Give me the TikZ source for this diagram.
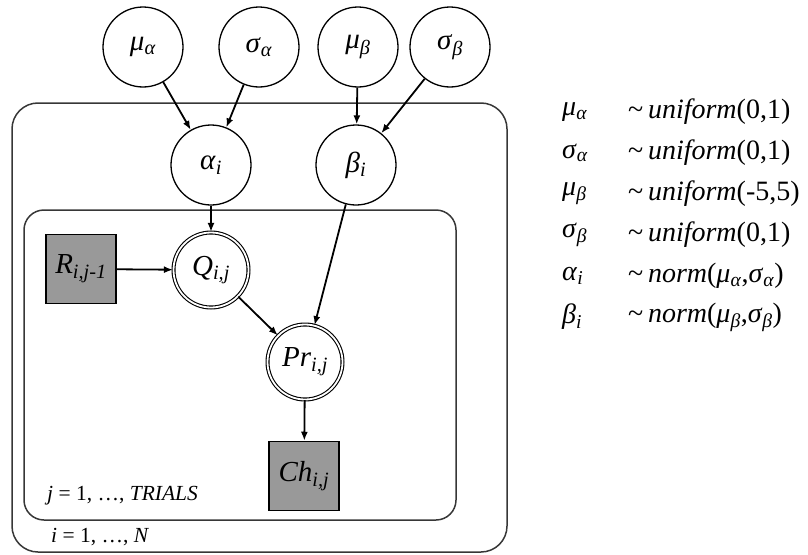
\documentclass[tikz,border=0pt]{standalone}
\usepackage{fontspec}
\setmainfont{Liberation Serif}
\usetikzlibrary{arrows.meta}
\definecolor{obsgray}{RGB}{153,153,153}
\definecolor{platec}{RGB}{55,55,55}
\newcommand\vsub[2]{\textit{#1}\textsubscript{\textit{#2}}}
\begin{document}
\begin{tikzpicture}[x=1pt,y=-1pt,
  latent/.style={circle,draw,line width=1.3pt,minimum size=80pt,inner sep=0pt,font=\fontsize{29}{32}\selectfont},
  detnode/.style={circle,draw,double,double distance=1.8pt,line width=1.1pt,minimum size=75pt,inner sep=0pt,font=\fontsize{29}{32}\selectfont},
  obs/.style={rectangle,draw,fill=obsgray,line width=1.5pt,minimum width=70pt,minimum height=69pt,inner sep=0pt,font=\fontsize{29}{32}\selectfont},
  edge/.style={-{Latex[length=9pt,width=7pt]},line width=1.8pt},
  plate/.style={draw=platec,line width=1.5pt},
  platelab/.style={anchor=west,inner sep=0pt,font=\fontsize{21.5}{24}\selectfont},
  listtxt/.style={anchor=west,inner sep=0pt,font=\fontsize{28}{32}\selectfont}]
\useasboundingbox (0,0) rectangle (808,554);
% plates
\draw[plate,rounded corners=26pt] (12,103) rectangle (507,552);
\draw[plate,rounded corners=20pt] (24,210) rectangle (456,520);
% top nodes
\node[latent] (mua) at (143,47) {\vsub{μ}{α}};
\node[latent] (sa)  at (259,47) {\vsub{σ}{α}};
\node[latent] (mub) at (358,47) {\vsub{μ}{β}};
\node[latent] (sb)  at (450,47) {\vsub{σ}{β}};
% individual level
\node[latent] (ai) at (211,165) {\vsub{α}{i}};
\node[latent] (bi) at (356,165) {\vsub{β}{i}};
% trial level
\node[obs] (R) at (81,269) {\vsub{R}{i,j-1}};
\node[detnode] (Q) at (211,270) {\vsub{Q}{i,j}};
\node[detnode] (Pr) at (305,362) {\vsub{Pr}{i,j}};
\node[obs] (Ch) at (304,476) {\vsub{Ch}{i,j}};
% edges
\draw[edge] (mua) -- (ai);
\draw[edge] (sa) -- (ai);
\draw[edge] (mub) -- (bi);
\draw[edge] (sb) -- (bi);
\draw[edge] (ai) -- (Q);
\draw[edge] (R) -- (Q);
\draw[edge] (Q) -- (Pr);
\draw[edge] (bi) -- (Pr);
\draw[edge] (Pr) -- (Ch);
% plate labels
\node[platelab] (jl) at (47,496) {\textit{j} = 1, …, \textit{TRIALS}};
\node[platelab] (il) at (51,537) {\textit{i} = 1, …, \textit{N}};
% priors list
\node[listtxt] (l1a) at (562,112) {\vsub{μ}{α}};
\node[listtxt] (l1b) at (628,112) {\textasciitilde\,\textit{uniform}(0,1)};
\node[listtxt] (l2a) at (562,153) {\vsub{σ}{α}};
\node[listtxt] (l2b) at (628,153) {\textasciitilde\,\textit{uniform}(0,1)};
\node[listtxt] (l3a) at (562,194) {\vsub{μ}{β}};
\node[listtxt] (l3b) at (628,194) {\textasciitilde\,\textit{uniform}(-5,5)};
\node[listtxt] (l4a) at (562,235) {\vsub{σ}{β}};
\node[listtxt] (l4b) at (628,235) {\textasciitilde\,\textit{uniform}(0,1)};
\node[listtxt] (l5a) at (562,276) {\vsub{α}{i}};
\node[listtxt] (l5b) at (628,276) {\textasciitilde\,\textit{norm}(\vsub{μ}{α},\vsub{σ}{α})};
\node[listtxt] (l6a) at (562,317) {\vsub{β}{i}};
\node[listtxt] (l6b) at (628,317) {\textasciitilde\,\textit{norm}(\vsub{μ}{β},\vsub{σ}{β})};
\end{tikzpicture}
\end{document}
